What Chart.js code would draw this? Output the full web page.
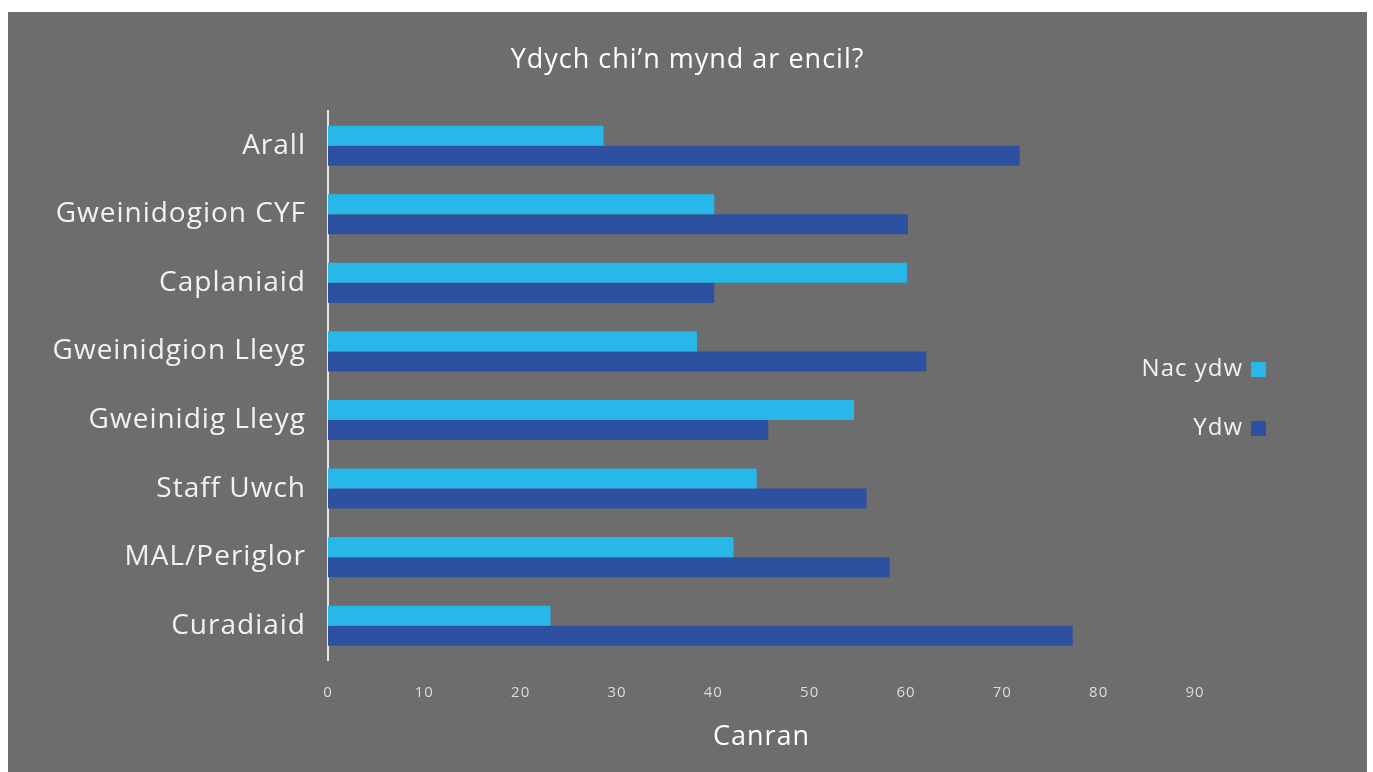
<!DOCTYPE html>
<html>
<head>
<meta charset="utf-8">
<script src="https://cdn.jsdelivr.net/npm/chart.js@4/dist/chart.umd.min.js"></script>
<style>
  html, body { margin: 0; padding: 0; background: #ffffff; width: 1373px; height: 772px; overflow: hidden; }
  #wrap { position: absolute; left: 8px; top: 12px; width: 1359px; height: 760px; background: #6d6d6d; }
  canvas { display: block; }
</style>
</head>
<body>
<div id="wrap"><canvas id="c" width="1359" height="760"></canvas></div>
<script>
const categories = ['Arall', 'Gweinidogion CYF', 'Caplaniaid', 'Gweinidgion Lleyg', 'Gweinidig Lleyg', 'Staff Uwch', 'MAL/Periglor', 'Curadiaid'];
const nacYdw = [28.6, 40.1, 60.1, 38.3, 54.6, 44.5, 42.1, 23.1];
const ydw = [71.8, 60.2, 40.1, 62.1, 45.7, 55.9, 58.3, 77.3];
const seriesNames = ['Nac ydw', 'Ydw'];
const seriesColors = ['#27b7e8', '#2d50a0'];
const xTickValues = [0, 10, 20, 30, 40, 50, 60, 70, 80, 90];
const titleText = 'Ydych chi\u2019n mynd ar encil?';
const xTitle = 'Canran';

const FONT = "'Open Sans', 'Noto Sans', sans-serif";

const spacing = {
  id: 'spacing',
  beforeUpdate(chart) { chart.ctx.letterSpacing = '1px'; },
  beforeDraw(chart) { chart.ctx.letterSpacing = '1px'; }
};

const customLegend = {
  id: 'customLegend',
  afterDraw(chart) {
    const ctx = chart.ctx;
    ctx.save();
    ctx.letterSpacing = '1px';
    ctx.font = '24px ' + FONT;
    ctx.textAlign = 'right';
    ctx.textBaseline = 'middle';
    const ys = [357, 416];
    chart.data.datasets.forEach((ds, i) => {
      ctx.fillStyle = '#f2f2f2';
      ctx.fillText(ds.label, 1235, ys[i]);
      ctx.fillStyle = ds.backgroundColor;
      ctx.fillRect(1243, ys[i] - 7, 15, 15);
    });
    ctx.restore();
  }
};

new Chart(document.getElementById('c'), {
  type: 'bar',
  data: {
    labels: categories,
    datasets: [
      { label: seriesNames[0], data: nacYdw, backgroundColor: seriesColors[0] },
      { label: seriesNames[1], data: ydw, backgroundColor: seriesColors[1] }
    ]
  },
  options: {
    indexAxis: 'y',
    responsive: false,
    animation: false,
    devicePixelRatio: 1,
    layout: { padding: 0 },
    datasets: { bar: { categoryPercentage: 0.585, barPercentage: 1.0 } },
    plugins: {
      legend: { display: false },
      tooltip: { enabled: false },
      title: {
        display: true,
        text: titleText,
        color: '#ffffff',
        font: { family: FONT, size: 27, weight: 'normal' },
        padding: { top: 32, bottom: 35 }
      }
    },
    scales: {
      x: {
        min: 0,
        max: 90,
        afterBuildTicks(scale) { scale.ticks = xTickValues.map(v => ({ value: v })); },
        afterFit(scale) { scale.height = 112; },
        grid: { display: false, drawTicks: false },
        border: { display: false },
        ticks: { color: '#dcdcdc', font: { family: FONT, size: 15 }, padding: 24 },
        title: { display: true, text: xTitle, color: '#ffffff', font: { family: FONT, size: 27 }, padding: { top: 6, bottom: 18 } }
      },
      y: {
        afterFit(scale) { scale.width = 320; },
        grid: { display: false, drawTicks: false },
        border: { display: true, color: '#e8e8e8', width: 2 },
        ticks: { color: '#f2f2f2', font: { family: FONT, size: 28 }, padding: 22 }
      },
      yRight: {
        type: 'category',
        position: 'right',
        display: true,
        afterFit(scale) { scale.width = 172; },
        grid: { display: false, drawTicks: false },
        border: { display: false },
        ticks: { display: false }
      }
    }
  },
  plugins: [spacing, customLegend]
});
</script>
</body>
</html>
